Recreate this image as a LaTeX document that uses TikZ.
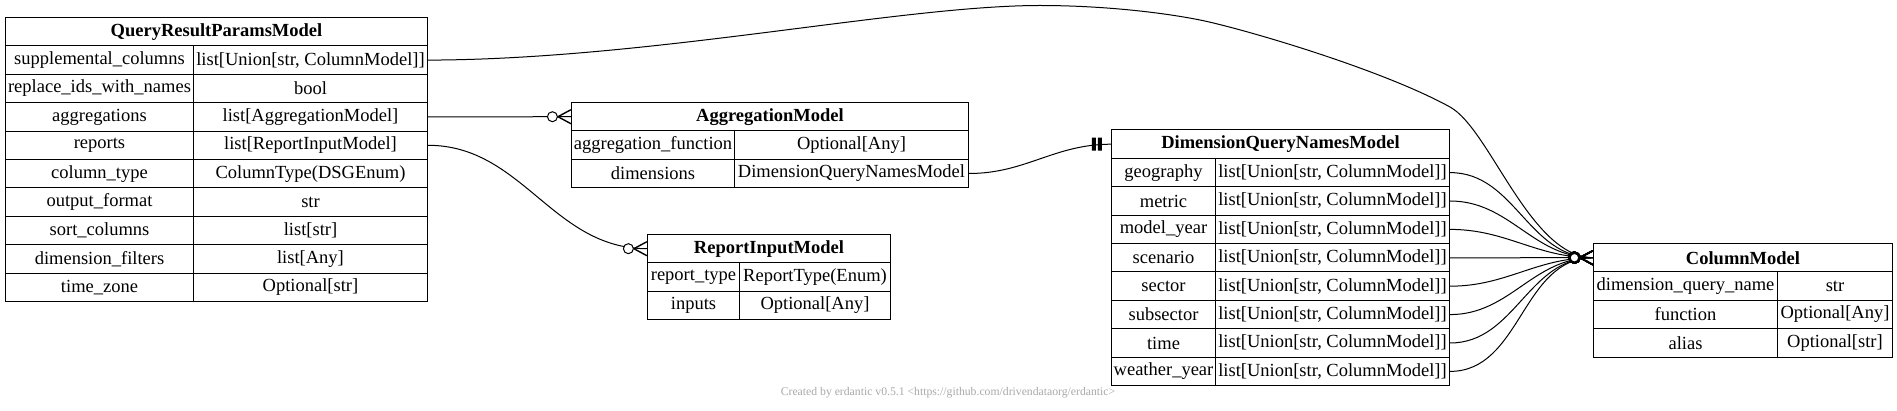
\documentclass[tikz,border=0pt]{standalone}
\usepackage{fontspec}
\setmainfont{Liberation Serif}
\usetikzlibrary{decorations.markings}
\definecolor{footgrey}{RGB}{168,168,168}

\begin{document}
\begin{tikzpicture}[x=1pt,y=-1pt,font=\fontsize{18.5}{22}\selectfont]
\tikzset{head/.style = {draw, line width=1pt, anchor=north west, inner sep=0pt,
minimum height=28.4pt, font=\fontsize{18.5}{22}\selectfont\bfseries}}
\tikzset{cell/.style = {draw, line width=1pt, anchor=north west, inner sep=0pt,
minimum height=28.4pt}}
\tikzset{edge/.style = {draw, line width=1pt}}
\tikzset{many/.style = {postaction={decorate, decoration={markings,
mark=at position 0.9995 with {\draw[line width=1.4pt] (-13,0) -- (0,7) (-13,0) -- (0,-7);
\draw[line width=#1, fill=white] (-18.5,0) circle (5);}}}}, many/.default=1pt}
\tikzset{one/.style = {postaction={decorate, decoration={markings,
mark=at position 0.9995 with {\draw[line width=4pt] (-17,-6.5) -- (-17,6.5) (-11,-6.5) -- (-11,6.5);}}}}}
\useasboundingbox (0,0) rectangle (1897,411);
% QueryResultParamsModel
\node[head, minimum width=422pt] (qrp) at (5,17) {QueryResultParamsModel};
\node[cell, minimum width=188pt] (qrp-k1) at (5,45.4) {supplemental\_columns};
\node[cell, minimum width=234pt] (qrp-t1) at (193,45.4) {list[Union[str, ColumnModel]]};
\node[cell, minimum width=188pt] (qrp-k2) at (5,73.8) {replace\_ids\_with\_names};
\node[cell, minimum width=234pt] (qrp-t2) at (193,73.8) {bool};
\node[cell, minimum width=188pt] (qrp-k3) at (5,102.2) {aggregations};
\node[cell, minimum width=234pt] (qrp-t3) at (193,102.2) {list[AggregationModel]};
\node[cell, minimum width=188pt] (qrp-k4) at (5,130.6) {reports};
\node[cell, minimum width=234pt] (qrp-t4) at (193,130.6) {list[ReportInputModel]};
\node[cell, minimum width=188pt] (qrp-k5) at (5,159.0) {column\_type};
\node[cell, minimum width=234pt] (qrp-t5) at (193,159.0) {ColumnType(DSGEnum)};
\node[cell, minimum width=188pt] (qrp-k6) at (5,187.4) {output\_format};
\node[cell, minimum width=234pt] (qrp-t6) at (193,187.4) {str};
\node[cell, minimum width=188pt] (qrp-k7) at (5,215.8) {sort\_columns};
\node[cell, minimum width=234pt] (qrp-t7) at (193,215.8) {list[str]};
\node[cell, minimum width=188pt] (qrp-k8) at (5,244.2) {dimension\_filters};
\node[cell, minimum width=234pt] (qrp-t8) at (193,244.2) {list[Any]};
\node[cell, minimum width=188pt] (qrp-k9) at (5,272.6) {time\_zone};
\node[cell, minimum width=234pt] (qrp-t9) at (193,272.6) {Optional[str]};
% AggregationModel
\node[head, minimum width=397pt] (agg) at (571,102) {AggregationModel};
\node[cell, minimum width=163pt] (agg-k1) at (571,130.4) {aggregation\_function};
\node[cell, minimum width=234pt] (agg-t1) at (734,130.4) {Optional[Any]};
\node[cell, minimum width=163pt] (agg-k2) at (571,158.8) {dimensions};
\node[cell, minimum width=234pt] (agg-t2) at (734,158.8) {DimensionQueryNamesModel};
% ReportInputModel
\node[head, minimum width=243pt] (rep) at (647,234) {ReportInputModel};
\node[cell, minimum width=92pt] (rep-k1) at (647,262.4) {report\_type};
\node[cell, minimum width=151pt] (rep-t1) at (739,262.4) {ReportType(Enum)};
\node[cell, minimum width=92pt] (rep-k2) at (647,290.8) {inputs};
\node[cell, minimum width=151pt] (rep-t2) at (739,290.8) {Optional[Any]};
% DimensionQueryNamesModel
\node[head, minimum width=338pt] (dqn) at (1111,129.5) {DimensionQueryNamesModel};
\node[cell, minimum width=104pt] (dqn-k1) at (1111,157.9) {geography};
\node[cell, minimum width=234pt] (dqn-t1) at (1215,157.9) {list[Union[str, ColumnModel]]};
\node[cell, minimum width=104pt] (dqn-k2) at (1111,186.3) {metric};
\node[cell, minimum width=234pt] (dqn-t2) at (1215,186.3) {list[Union[str, ColumnModel]]};
\node[cell, minimum width=104pt] (dqn-k3) at (1111,214.7) {model\_year};
\node[cell, minimum width=234pt] (dqn-t3) at (1215,214.7) {list[Union[str, ColumnModel]]};
\node[cell, minimum width=104pt] (dqn-k4) at (1111,243.1) {scenario};
\node[cell, minimum width=234pt] (dqn-t4) at (1215,243.1) {list[Union[str, ColumnModel]]};
\node[cell, minimum width=104pt] (dqn-k5) at (1111,271.5) {sector};
\node[cell, minimum width=234pt] (dqn-t5) at (1215,271.5) {list[Union[str, ColumnModel]]};
\node[cell, minimum width=104pt] (dqn-k6) at (1111,299.9) {subsector};
\node[cell, minimum width=234pt] (dqn-t6) at (1215,299.9) {list[Union[str, ColumnModel]]};
\node[cell, minimum width=104pt] (dqn-k7) at (1111,328.3) {time};
\node[cell, minimum width=234pt] (dqn-t7) at (1215,328.3) {list[Union[str, ColumnModel]]};
\node[cell, minimum width=104pt] (dqn-k8) at (1111,356.7) {weather\_year};
\node[cell, minimum width=234pt] (dqn-t8) at (1215,356.7) {list[Union[str, ColumnModel]]};
% ColumnModel
\node[head, minimum width=299pt] (col) at (1593,243) {ColumnModel};
\node[cell, minimum width=184pt] (col-k1) at (1593,271.4) {dimension\_query\_name};
\node[cell, minimum width=115pt] (col-t1) at (1777,271.4) {str};
\node[cell, minimum width=184pt] (col-k2) at (1593,299.8) {function};
\node[cell, minimum width=115pt] (col-t2) at (1777,299.8) {Optional[Any]};
\node[cell, minimum width=184pt] (col-k3) at (1593,328.2) {alias};
\node[cell, minimum width=115pt] (col-t3) at (1777,328.2) {Optional[str]};
% footer
\node[font=\fontsize{11.7}{14}\selectfont, text=footgrey] (credit) at (948,393)
{Created by erdantic v0.5.1 <https://github.com/drivendataorg/erdantic>};
% edges
\draw[edge, many=2.4pt] (qrp-t1.east) .. controls (650,59.6) and (900,5.5) .. (1040,5.5)
.. controls (1100,5.5) and (1160,12) .. (1200,20)
.. controls (1240,28) and (1380,68.5) .. (1450,107)
.. controls (1490,129) and (1530,257.2) .. (col.west);
\draw[edge, many] (qrp-t3.east) -- (agg.west);
\draw[edge, many] (qrp-t4.east) to[out=0,in=180] (rep.west);
\draw[edge, one] (agg-t2.east) to[out=0,in=180] (dqn.west);
\draw[edge, many=2.4pt] (dqn-t1.east) to[out=0,in=180] (col.west);
\draw[edge, many=2.4pt] (dqn-t2.east) to[out=0,in=180] (col.west);
\draw[edge, many=2.4pt] (dqn-t3.east) to[out=0,in=180] (col.west);
\draw[edge, many=2.4pt] (dqn-t4.east) to[out=0,in=180] (col.west);
\draw[edge, many=2.4pt] (dqn-t5.east) to[out=0,in=180] (col.west);
\draw[edge, many=2.4pt] (dqn-t6.east) to[out=0,in=180] (col.west);
\draw[edge, many=2.4pt] (dqn-t7.east) to[out=0,in=180] (col.west);
\draw[edge, many=2.4pt] (dqn-t8.east) to[out=0,in=180] (col.west);
\end{tikzpicture}
\end{document}
